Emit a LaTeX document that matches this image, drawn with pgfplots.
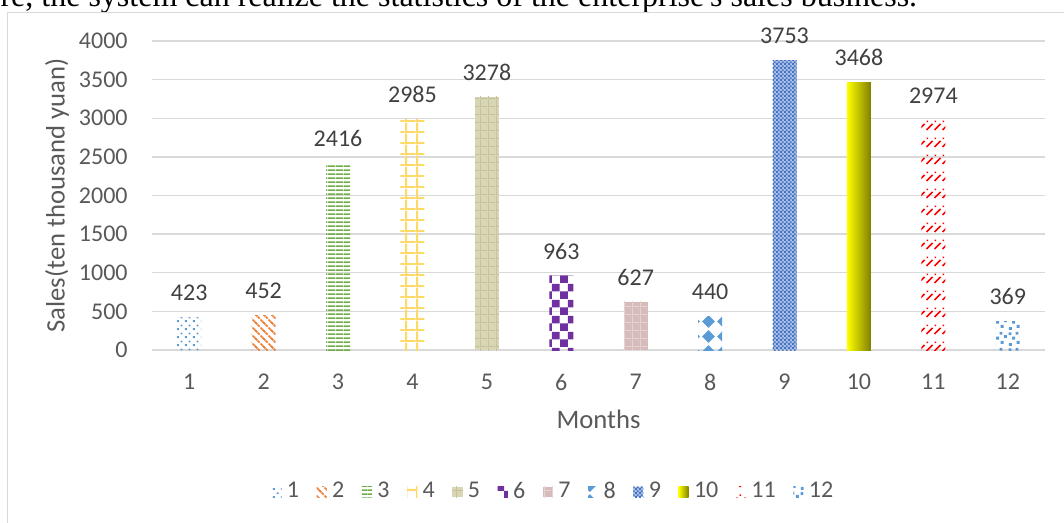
\documentclass[border=0pt]{standalone}
\usepackage{fontspec}
\setmainfont{Carlito}
\newfontfamily\seriffont{Liberation Serif}
\usepackage{pgfplots}
\pgfplotsset{compat=1.18}
\usetikzlibrary{patterns}

\definecolor{cA}{HTML}{5B9BD5}
\definecolor{cB}{HTML}{ED7D31}
\definecolor{cC}{HTML}{70AD47}
\definecolor{cD}{HTML}{FFD966}
\definecolor{cE}{HTML}{D8D6B4}
\definecolor{cEd}{HTML}{C4C19C}
\definecolor{cF}{HTML}{7030A0}
\definecolor{cG}{HTML}{D7BBBB}
\definecolor{cGl}{HTML}{E6D3D3}
\definecolor{cI}{HTML}{4472C4}
\definecolor{cJa}{HTML}{FFFF00}
\definecolor{cJb}{HTML}{EDED00}
\definecolor{cJc}{HTML}{7F7F00}
\definecolor{cK}{HTML}{FF0000}
\definecolor{gridc}{HTML}{D9D9D9}
\definecolor{tickc}{HTML}{595959}
\definecolor{labc}{HTML}{404040}

\pgfdeclarepatternformonly{pdots}{\pgfqpoint{0pt}{0pt}}{\pgfqpoint{3pt}{3pt}}{\pgfqpoint{3pt}{3pt}}{%
 \pgfpathrectangle{\pgfqpoint{0.4pt}{0.4pt}}{\pgfqpoint{0.75pt}{0.75pt}}%
 \pgfpathrectangle{\pgfqpoint{1.9pt}{1.9pt}}{\pgfqpoint{0.75pt}{0.75pt}}%
 \pgfusepath{fill}}
\pgfdeclarepatternformonly{pdiag}{\pgfqpoint{-1pt}{-1pt}}{\pgfqpoint{4pt}{4pt}}{\pgfqpoint{3pt}{3pt}}{%
 \pgfsetlinewidth{0.65pt}\pgfsetdash{{1.1pt}{0.45pt}}{0pt}%
 \pgfpathmoveto{\pgfqpoint{-0.5pt}{3.5pt}}\pgfpathlineto{\pgfqpoint{3.5pt}{-0.5pt}}\pgfusepath{stroke}}
\pgfdeclarepatternformonly{phlines}{\pgfqpoint{0pt}{0pt}}{\pgfqpoint{3pt}{1.5pt}}{\pgfqpoint{3pt}{1.5pt}}{%
 \pgfpathrectangle{\pgfqpoint{0pt}{0pt}}{\pgfqpoint{3pt}{0.7pt}}\pgfusepath{fill}}
\pgfdeclarepatternformonly{pgrid}{\pgfqpoint{0pt}{0pt}}{\pgfqpoint{4pt}{4pt}}{\pgfqpoint{4pt}{4pt}}{%
 \pgfpathrectangle{\pgfqpoint{0pt}{0pt}}{\pgfqpoint{4pt}{0.75pt}}%
 \pgfpathrectangle{\pgfqpoint{0pt}{0.75pt}}{\pgfqpoint{0.75pt}{3.25pt}}\pgfusepath{fill}}
\pgfdeclarepatternformonly{ptex}{\pgfqpoint{0pt}{0pt}}{\pgfqpoint{3pt}{3pt}}{\pgfqpoint{3pt}{3pt}}{%
 \pgfpathrectangle{\pgfqpoint{0pt}{0pt}}{\pgfqpoint{3pt}{0.35pt}}%
 \pgfpathrectangle{\pgfqpoint{0pt}{0.35pt}}{\pgfqpoint{0.35pt}{2.65pt}}\pgfusepath{fill}}
\pgfdeclarepatternformonly{pcheck}{\pgfqpoint{0pt}{0pt}}{\pgfqpoint{6pt}{6pt}}{\pgfqpoint{6pt}{6pt}}{%
 \pgfpathrectangle{\pgfqpoint{0pt}{0pt}}{\pgfqpoint{3pt}{3pt}}%
 \pgfpathrectangle{\pgfqpoint{3pt}{3pt}}{\pgfqpoint{3pt}{3pt}}\pgfusepath{fill}}
\pgfdeclarepatternformonly{pdiamond}{\pgfqpoint{0pt}{0pt}}{\pgfqpoint{5.6pt}{5.6pt}}{\pgfqpoint{5.6pt}{5.6pt}}{%
 \pgfpathmoveto{\pgfqpoint{2.8pt}{0.4pt}}\pgfpathlineto{\pgfqpoint{5.2pt}{2.8pt}}%
 \pgfpathlineto{\pgfqpoint{2.8pt}{5.2pt}}\pgfpathlineto{\pgfqpoint{0.4pt}{2.8pt}}\pgfpathclose\pgfusepath{fill}}
\pgfdeclarepatternformonly{pfine}{\pgfqpoint{0pt}{0pt}}{\pgfqpoint{1.6pt}{1.6pt}}{\pgfqpoint{1.6pt}{1.6pt}}{%
 \pgfpathrectangle{\pgfqpoint{0pt}{0pt}}{\pgfqpoint{0.8pt}{0.8pt}}%
 \pgfpathrectangle{\pgfqpoint{0.8pt}{0.8pt}}{\pgfqpoint{0.8pt}{0.8pt}}\pgfusepath{fill}}
\pgfdeclarepatternformonly{pred}{\pgfqpoint{0pt}{0pt}}{\pgfqpoint{2.8pt}{6.4pt}}{\pgfqpoint{2.8pt}{6.4pt}}{%
 \pgfsetlinewidth{0.65pt}%
 \pgfpathmoveto{\pgfqpoint{0.2pt}{0.8pt}}\pgfpathlineto{\pgfqpoint{2.6pt}{3.2pt}}\pgfusepath{stroke}%
 \pgfpathrectangle{\pgfqpoint{0.3pt}{3.9pt}}{\pgfqpoint{0.55pt}{0.55pt}}\pgfusepath{fill}}
\pgfdeclarepatternformonly{psq}{\pgfqpoint{0pt}{0pt}}{\pgfqpoint{6pt}{6pt}}{\pgfqpoint{6pt}{6pt}}{%
 \pgfpathrectangle{\pgfqpoint{0.3pt}{0.4pt}}{\pgfqpoint{1.15pt}{1.15pt}}%
 \pgfpathrectangle{\pgfqpoint{3.3pt}{1.2pt}}{\pgfqpoint{1.15pt}{1.15pt}}%
 \pgfpathrectangle{\pgfqpoint{1.6pt}{2.9pt}}{\pgfqpoint{1.15pt}{1.15pt}}%
 \pgfpathrectangle{\pgfqpoint{4.6pt}{3.5pt}}{\pgfqpoint{1.15pt}{1.15pt}}%
 \pgfpathrectangle{\pgfqpoint{2.9pt}{4.8pt}}{\pgfqpoint{1.15pt}{1.15pt}}%
 \pgfpathrectangle{\pgfqpoint{0.2pt}{4.6pt}}{\pgfqpoint{1.15pt}{1.15pt}}%
 \pgfusepath{fill}}

\begin{document}
\begin{tikzpicture}
\path[use as bounding box] (0pt,0pt) rectangle (399pt,-196.125pt);
\clip (0pt,0pt) rectangle (399pt,-196.125pt);
\node[anchor=base west, inner sep=0pt, font=\seriffont\fontsize{12}{14}\selectfont] at (0pt,-2.625pt)
  {re, the system can realize the statistics of the enterprise's sales business.};
\draw[gridc, line width=0.5pt] (2.8pt,-4.7pt) rectangle (430pt,-230pt);
\begin{axis}[
  at={(57pt,-131.25pt)}, anchor=south west,
  scale only axis, width=334.875pt, height=115.875pt,
  ybar, bar width=9pt,
  xmin=0.5, xmax=12.5, ymin=0, ymax=4000,
  xtick={1,...,12}, ytick={0,500,...,4000},
  separate axis lines,
  axis x line*=bottom, axis y line*=left,
  y axis line style={draw=none},
  x axis line style={gridc, line width=0.6pt},
  ymajorgrids, grid style={gridc, line width=0.5pt},
  major tick length=0pt,
  /pgf/number format/assume math mode=true,
  /pgf/number format/set thousands separator={},
  tick label style={font=\fontsize{9}{10.8}\selectfont, text=tickc},
  xticklabel style={yshift=-5.6pt},
  yticklabel style={xshift=-5.6pt},
  xlabel={Months}, ylabel={Sales(ten thousand yuan)},
  label style={font=\fontsize{10}{12}\selectfont, text=tickc},
  xlabel style={at={(axis description cs:0.5,0)}, anchor=center, yshift=-25.9pt},
  ylabel style={at={(axis description cs:-0.1064,0.5)}, anchor=center},
  legend columns=12,
  legend style={draw=none, fill=none, font=\fontsize{9}{10.8}\selectfont, text=tickc,
    at={(axis description cs:0.4513,-0.4595)}, anchor=center,
    /tikz/every even column/.append style={column sep=4.6pt},
    /tikz/every odd column/.append style={column sep=0pt}},
  legend image code/.code={\path[#1] (0pt,-1.9pt) rectangle (3.8pt,1.9pt);},
  bb/.style={draw=none, bar shift=0pt},
]
\addplot[bb, pattern=pdots, pattern color=cA] coordinates {(1,423)};
\addlegendentry{1}
\addplot[bb, pattern=pdiag, pattern color=cB] coordinates {(2,452)};
\addlegendentry{2}
\addplot[bb, pattern=phlines, pattern color=cC] coordinates {(3,2416)};
\addlegendentry{3}
\addplot[bb, pattern=pgrid, pattern color=cD] coordinates {(4,2985)};
\addlegendentry{4}
\addplot[bb, fill=cE, postaction={pattern=ptex, pattern color=cEd}] coordinates {(5,3278)};
\addlegendentry{5}
\addplot[bb, pattern=pcheck, pattern color=cF] coordinates {(6,963)};
\addlegendentry{6}
\addplot[bb, fill=cG, postaction={pattern=ptex, pattern color=cGl}] coordinates {(7,627)};
\addlegendentry{7}
\addplot[bb, pattern=pdiamond, pattern color=cA] coordinates {(8,440)};
\addlegendentry{8}
\addplot[bb, fill=cI!45, postaction={pattern=pfine, pattern color=cI}] coordinates {(9,3753)};
\addlegendentry{9}
\addplot[bb, left color=cJa, middle color=cJb, right color=cJc] coordinates {(10,3468)};
\addlegendentry{10}
\addplot[bb, pattern=pred, pattern color=cK] coordinates {(11,2974)};
\addlegendentry{11}
\addplot[bb, pattern=psq, pattern color=cA] coordinates {(12,369)};
\addlegendentry{12}
\addplot[draw=none, fill=none, bar shift=0pt, forget plot,
  nodes near coords,
  every node near coord/.append style={font=\fontsize{9}{10.8}\selectfont, text=labc, yshift=2.6pt}]
  coordinates {(1,423) (2,452) (3,2416) (4,2985) (5,3278) (6,963) (7,627) (8,440) (9,3753) (10,3468) (11,2974) (12,369)};
\end{axis}
\end{tikzpicture}
\end{document}
